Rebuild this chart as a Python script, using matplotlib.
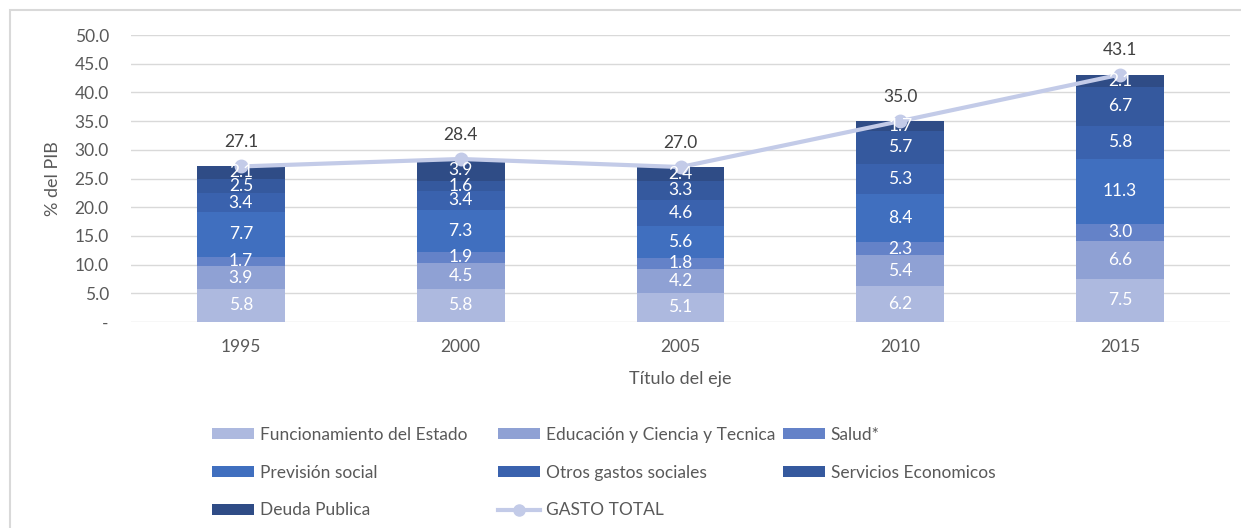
import numpy as np
import matplotlib.pyplot as plt
from matplotlib.patches import Rectangle, Patch
from matplotlib.lines import Line2D

plt.rcParams['font.family'] = ['Lato', 'DejaVu Sans']

years = ['1995', '2000', '2005', '2010', '2015']
series_names = ['Funcionamiento del Estado', 'Educación y Ciencia y Tecnica', 'Salud*',
                'Previsión social', 'Otros gastos sociales', 'Servicios Economicos',
                'Deuda Publica']
funcionamiento = [5.8, 5.8, 5.1, 6.2, 7.5]
educacion = [3.9, 4.5, 4.2, 5.4, 6.6]
salud = [1.7, 1.9, 1.8, 2.3, 3.0]
prevision = [7.7, 7.3, 5.6, 8.4, 11.3]
otros_sociales = [3.4, 3.4, 4.6, 5.3, 5.8]
servicios = [2.5, 1.6, 3.3, 5.7, 6.7]
deuda = [2.1, 3.9, 2.4, 1.7, 2.1]
gasto_total = [27.1, 28.4, 27.0, 35.0, 43.1]

colors = ['#adb9df', '#8fa1d4', '#6482c8', '#406fbf', '#3a62ae', '#35599e', '#2f4c86']
line_color = '#c3cbe8'
text_gray = '#595959'
grid_gray = '#d9d9d9'

W, H = 1241, 528
fig = plt.figure(figsize=(W / 100, H / 100), dpi=100)
ax = fig.add_axes([131 / W, 1 - 322 / H, (1230 - 131) / W, (322 - 35) / H])

x = np.arange(len(years))
stack = [funcionamiento, educacion, salud, prevision, otros_sociales, servicios, deuda]
bottom = np.zeros(len(years))
handles = []
for name, vals, col in zip(series_names, stack, colors):
    bars = ax.bar(x, vals, 0.4, bottom=bottom, color=col, label=name, zorder=2)
    ax.bar_label(bars, labels=[f'{v:.1f}' for v in vals], label_type='center',
                 color='white', fontsize=12.5, zorder=5)
    bottom += np.array(vals)
    handles.append(Patch(facecolor=col, label=name))

ax.plot(x, gasto_total, color=line_color, lw=3, marker='o', ms=9, zorder=4)
for xi, v in zip(x, gasto_total):
    ax.annotate(f'{v:.1f}', (xi, v), xytext=(0, 14), textcoords='offset points',
                ha='center', va='baseline', fontsize=12.5, color='#404040', zorder=6)
handles.append(Line2D([], [], color=line_color, lw=3, marker='o', ms=8, label='GASTO TOTAL'))

ax.set_xlim(-0.5, len(years) - 0.5)
ax.set_ylim(0, 50)
ax.set_yticks(np.arange(0, 51, 5))
ax.set_yticklabels(['-'] + [f'{v:.1f}' for v in np.arange(5, 51, 5)])
ax.set_xticks(x)
ax.set_xticklabels(years)
ax.tick_params(length=0, labelsize=12.5, labelcolor=text_gray)
ax.tick_params(axis='y', pad=16)
ax.tick_params(axis='x', pad=12)
ax.yaxis.grid(True, color=grid_gray, lw=1, zorder=0)
ax.set_axisbelow(True)
for s in ax.spines.values():
    s.set_visible(False)
ax.set_xlabel('Título del eje', fontsize=13, color=text_gray, labelpad=12)
ax.set_ylabel('% del PIB', fontsize=13, color=text_gray, labelpad=10)

# legend in three columns, rows filled left to right like the original
cols_x = [212, 498, 783]
groups = [[handles[0], handles[3], handles[6]],
          [handles[1], handles[4], handles[7]],
          [handles[2], handles[5]]]
for cx, grp in zip(cols_x, groups):
    fig.legend(handles=grp, loc='upper left', bbox_to_anchor=(cx / W, 1 - 427 / H),
               frameon=False, fontsize=12.5, handlelength=2.4, handleheight=0.6,
               handletextpad=0.35, labelspacing=1.25, borderpad=0, borderaxespad=0,
               labelcolor=text_gray)

# outer chart border
fig.patches.append(Rectangle((10 / W, -0.1), 1.2, 1 - 10 / H + 0.1, transform=fig.transFigure,
                             fill=False, edgecolor=grid_gray, lw=1.5))

fig.savefig('out.png', dpi=100)
